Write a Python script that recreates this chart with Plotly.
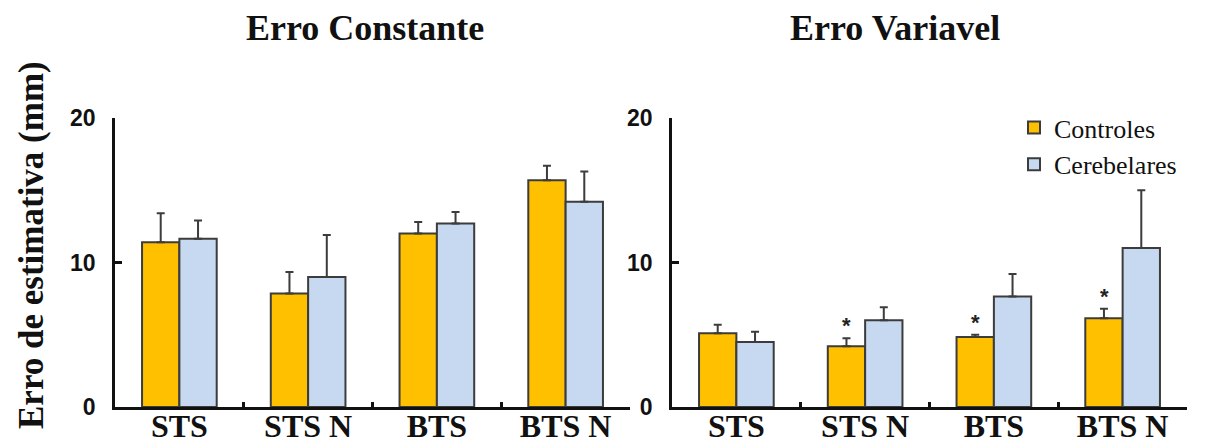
import plotly.graph_objects as go

categories = ["STS", "STS N", "BTS", "BTS N"]

# Erro Constante
const_ctrl = [11.4, 7.85, 12.0, 15.7]
const_ctrl_err = [2.0, 1.5, 0.8, 1.0]
const_cereb = [11.65, 9.0, 12.7, 14.2]
const_cereb_err = [1.25, 2.9, 0.8, 2.1]

# Erro Variavel
var_ctrl = [5.1, 4.2, 4.85, 6.15]
var_ctrl_err = [0.6, 0.55, 0.15, 0.65]
var_cereb = [4.5, 6.0, 7.65, 11.0]
var_cereb_err = [0.7, 0.9, 1.55, 4.0]
var_signif = [False, True, True, True]

series_names = ["Controles", "Cerebelares"]
titles = ["Erro Constante", "Erro Variavel"]
y_title = "Erro de estimativa (mm)"
y_ticks = [0, 10, 20]

YELLOW = "#FFC000"
BLUE = "#C6D9F1"
EDGE = "#3c3c3c"

# page body has an 8px margin: size the figure so it fits the 1224x448 window
OFF = 8
W, H = 1224 - OFF, 448 - OFF
ML, MT = 115 - OFF, 118 - OFF
MR = W - (1187 - OFF)
MB = H - (407 - OFF)
PW = W - ML - MR
PH = H - MT - MB

def px_to_paper_x(px):
    return (px - OFF - ML) / PW

def px_to_paper_y(py):
    return 1 - (py - OFF - MT) / PH

fig = go.Figure()

panels = [
    ("x", "y", const_ctrl, const_ctrl_err, const_cereb, const_cereb_err, False),
    ("x2", "y2", var_ctrl, var_ctrl_err, var_cereb, var_cereb_err, True),
]

for xa, ya, c, ce, b, be, show in panels:
    for name, vals, errs, col in [(series_names[0], c, ce, YELLOW), (series_names[1], b, be, BLUE)]:
        fig.add_trace(go.Bar(
            x=categories, y=vals, name=name, xaxis=xa, yaxis=ya,
            marker=dict(color=col, line=dict(color=EDGE, width=2)),
            error_y=dict(type="data", array=errs, arrayminus=[0] * len(errs),
                         symmetric=False, color=EDGE, thickness=2, width=4),
            showlegend=show, legendgroup=name,
        ))

# significance asterisks on controls (Erro Variavel)
for cat, v, e, s in zip(categories, var_ctrl, var_ctrl_err, var_signif):
    if s:
        fig.add_annotation(x=cat, y=v + e, xref="x2", yref="y2", text="<b>*</b>",
                           showarrow=False, xshift=-18.5, yanchor="bottom", yshift=-2,
                           font=dict(family="Liberation Sans", size=22, color="#222222"))

axis_common = dict(showline=True, linecolor="#111111", linewidth=2.5, mirror=False,
                   showgrid=False, zeroline=False, automargin=False)

xcommon = dict(axis_common, type="category", ticks="inside", tickson="boundaries",
               ticklen=5, tickwidth=2.5, tickcolor="#111111",
               tickfont=dict(family="Liberation Serif", size=32, color="#111111"),
               ticklabelstandoff=-11, range=[-0.5, 3.5])
ycommon = dict(axis_common, range=[0, 20], tickvals=y_ticks, ticks="inside", ticklen=7,
               tickwidth=2.5, tickcolor="#111111",
               tickfont=dict(family="Liberation Sans", size=23, color="#111111"),
               ticklabelstandoff=12)

fig.update_layout(
    width=W, height=H,
    margin=dict(l=ML, r=MR, t=MT, b=MB, autoexpand=False),
    paper_bgcolor="white", plot_bgcolor="white",
    barmode="group", bargap=0.42, bargroupgap=0,
    xaxis=dict(xcommon, domain=[0, px_to_paper_x(630)], anchor="y"),
    xaxis2=dict(xcommon, domain=[px_to_paper_x(672), 1], anchor="y2"),
    yaxis=dict(ycommon, anchor="x"),
    yaxis2=dict(ycommon, anchor="x2"),
    legend=dict(x=px_to_paper_x(1014), y=px_to_paper_y(104), xanchor="left", yanchor="top",
                font=dict(family="Liberation Serif", size=26, color="#111111"),
                bgcolor="rgba(0,0,0,0)", tracegroupgap=0),
    showlegend=True,
)

# bold fonts via HTML
fig.update_xaxes(ticktext=[f"<b>{c}</b>" for c in categories], tickvals=categories)
fig.update_yaxes(ticktext=[f"<b>{t}</b>" for t in y_ticks])

for t, cx in zip(titles, [365, 895]):
    fig.add_annotation(text=f"<b>{t}</b>", xref="paper", yref="paper",
                       x=px_to_paper_x(cx), y=px_to_paper_y(28), showarrow=False,
                       xanchor="center", yanchor="middle",
                       font=dict(family="Liberation Serif", size=36, color="#111111"))

fig.add_annotation(text=f"<b>{y_title}</b>", xref="paper", yref="paper",
                   x=px_to_paper_x(31), y=px_to_paper_y(245), textangle=-90,
                   showarrow=False, xanchor="center", yanchor="middle", borderpad=0,
                   font=dict(family="Liberation Serif", size=35, color="#111111"))

fig.write_html("out.html")
